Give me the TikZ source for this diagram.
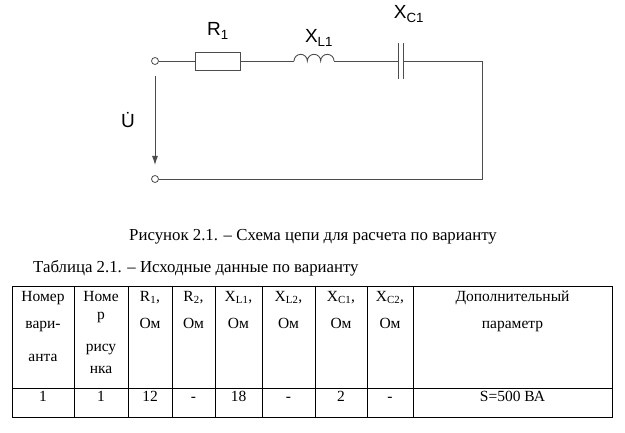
\documentclass[tikz,border=0pt]{standalone}
\usepackage{fontspec}
\usetikzlibrary{arrows.meta}
\setmainfont{Liberation Serif}
\newfontfamily\lblfont{Liberation Sans}
\begin{document}
\begin{tikzpicture}[x=1pt,y=1pt,
  wire/.style={line width=0.9pt,draw=black!70},
  tline/.style={line width=0.8pt,draw=black},
  lbl/.style={font=\lblfont\fontsize{19}{20}\selectfont,inner sep=0pt},
  txt/.style={font=\fontsize{16.8}{18}\selectfont,inner sep=0pt},
  cell/.style={font=\fontsize{15.5}{17}\selectfont,inner sep=0pt,text height=10.5pt,text depth=3.5pt}]
\useasboundingbox (0,0) rectangle (625,432);
% circuit
\node[circle,draw=black!70,line width=0.8pt,minimum size=7pt,inner sep=0pt] (t1) at (155,371) {};
\node[circle,draw=black!70,line width=0.8pt,minimum size=7pt,inner sep=0pt] (t2) at (155,253) {};
\node[draw=black!70,line width=0.9pt,minimum width=45pt,minimum height=18pt,inner sep=0pt] (r1) at (217.5,371) {};
\coordinate (ls) at (294,371);
\coordinate (le) at (334,371);
\coordinate (c1) at (398,371);
\coordinate (c2) at (403,371);
\coordinate (tr) at (482,371);
\coordinate (br) at (482,253);
\draw[wire] (t1.east) -- (r1.west);
\draw[wire] (r1.east) -- (ls);
\draw[wire] (ls) arc[start angle=180,end angle=0,radius=6.67]
  arc[start angle=180,end angle=0,radius=6.67]
  arc[start angle=180,end angle=0,radius=6.67];
\draw[wire] (le) -- (c1);
\draw[wire] (398,353) -- (398,389);
\draw[wire] (403,353) -- (403,389);
\draw[wire] (c2) -- (tr) -- (br) -- (t2.east);
\coordinate (as) at (155,356);
\coordinate (ae) at (155,267);
\draw[wire,-{Latex[length=9pt,width=6pt]}] (as) -- (ae);
\node[lbl] (lr) at (218,401) {R\textsubscript{1}};
\node[lbl] (ll) at (319,394) {X\textsubscript{L1}};
\node[lbl] (lc) at (409,418) {X\textsubscript{C1}};
\node[lbl] (lu) at (128,312) {\.U};
% captions
\node[txt] (cap) at (313,195) {Рисунок 2.1. – Схема цепи для расчета по варианту};
\node[txt,anchor=west] (tt) at (33,164) {Таблица 2.1. – Исходные данные по варианту};
% table
\draw[tline] (12,15) rectangle (612,146);
\draw[tline] (12,44) -- (612,44);
\foreach \x in {74,128,172,215,262,315,367,413} \draw[tline] (\x,15) -- (\x,146);
\node[cell] (h1a) at (43,134) {Номер};
\node[cell] (h1b) at (43,107) {вари-};
\node[cell] (h1c) at (43,74) {анта};
\node[cell] (h2a) at (101,134) {Номе};
\node[cell] (h2b) at (101,116) {р};
\node[cell] (h2c) at (101,84) {рису};
\node[cell] (h2d) at (101,62) {нка};
\node[cell] (h3a) at (150,134) {R\textsubscript{1},};
\node[cell] (h4a) at (193.5,134) {R\textsubscript{2},};
\node[cell] (h5a) at (238.5,134) {X\textsubscript{L1},};
\node[cell] (h6a) at (288.5,134) {X\textsubscript{L2},};
\node[cell] (h7a) at (341,134) {X\textsubscript{C1},};
\node[cell] (h8a) at (390,134) {X\textsubscript{C2},};
\foreach \x/\n in {150/a,193.5/b,238.5/c,288.5/d,341/e,390/f} \node[cell] (om\n) at (\x,107) {Ом};
\node[cell] (h9a) at (512.5,134) {Дополнительный};
\node[cell] (h9b) at (512.5,107) {параметр};
\node[cell] (d1) at (43,34) {1};
\node[cell] (d2) at (101,34) {1};
\node[cell] (d3) at (150,34) {12};
\node[cell] (d4) at (193.5,34) {-};
\node[cell] (d5) at (238.5,34) {18};
\node[cell] (d6) at (288.5,34) {-};
\node[cell] (d7) at (341,34) {2};
\node[cell] (d8) at (390,34) {-};
\node[cell] (d9) at (512.5,34) {S=500 ВА};
\end{tikzpicture}
\end{document}
